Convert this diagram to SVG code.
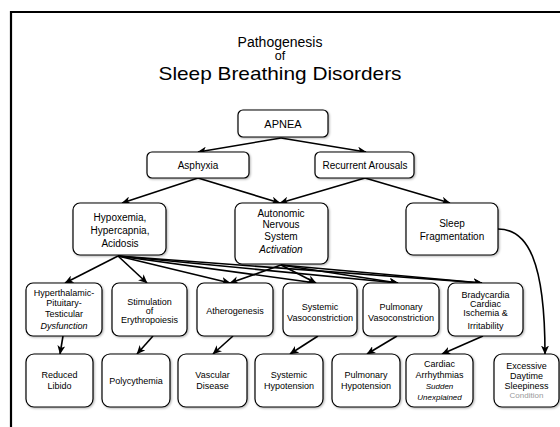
<svg xmlns="http://www.w3.org/2000/svg" width="560" height="427" viewBox="0 0 560 427">
<defs>
  <marker id="ah" markerWidth="10" markerHeight="8" refX="8.5" refY="4" orient="auto" markerUnits="userSpaceOnUse">
    <path d="M0,0 L9,4 L0,8 L2.5,4 z" fill="#000"/>
  </marker>
  <filter id="sh" x="-10%" y="-10%" width="130%" height="130%">
    <feDropShadow dx="1" dy="1" stdDeviation="0.8" flood-color="#000" flood-opacity="0.3"/>
  </filter>
</defs>
<style>
  .box { fill: #fff; stroke: #000; stroke-width: 1.2; filter: url(#sh); }
  .t { font-family: "Liberation Sans", Arial, sans-serif; text-anchor: middle; fill: #000; }
  .n11 { font-size: 11px; }
  .n10 { font-size: 10px; }
  .n9 { font-size: 9px; }
  .n8 { font-size: 8px; }
  .it { font-style: italic; }
  .gray { fill: #999; }
  .c { fill: none; stroke: #000; stroke-width: 1.6; marker-end: url(#ah); }
</style>
<rect width="560" height="427" fill="#fff"/>
<!-- frame -->
<path d="M11,427 L11,12 L560,12" fill="none" stroke="#000" stroke-width="2.2"/>

<!-- title -->
<g id="title">
  <text class="t" x="280" y="46.5" font-size="14">Pathogenesis</text>
  <text class="t" x="280" y="60" font-size="12.5">of</text>
  <text class="t" x="280" y="80" font-size="19" textLength="243" lengthAdjust="spacingAndGlyphs">Sleep Breathing Disorders</text>
</g>

<!-- connectors -->
<g id="connectors">
  <line class="c" x1="281" y1="138" x2="198" y2="152"/>
  <line class="c" x1="281" y1="138" x2="366" y2="152"/>
  <line class="c" x1="198" y1="178" x2="122" y2="203"/>
  <line class="c" x1="198" y1="178" x2="280" y2="203"/>
  <line class="c" x1="365" y1="178" x2="280" y2="203"/>
  <line class="c" x1="365" y1="178" x2="450" y2="203"/>
  <!-- from Hypoxemia -->
  <line class="c" x1="118" y1="256" x2="65" y2="283"/>
  <line class="c" x1="118" y1="256" x2="147" y2="283"/>
  <line class="c" x1="118" y1="256" x2="230" y2="283"/>
  <line class="c" x1="118" y1="256" x2="316" y2="283"/>
  <line class="c" x1="118" y1="256" x2="398" y2="283"/>
  <line class="c" x1="118" y1="256" x2="482" y2="283"/>
  <!-- from ANS -->
  <line class="c" x1="281" y1="265" x2="230" y2="283"/>
  <line class="c" x1="281" y1="265" x2="316" y2="283"/>
  <line class="c" x1="281" y1="265" x2="398" y2="283"/>
  <line class="c" x1="281" y1="265" x2="482" y2="283"/>
  <!-- row1 to row2 -->
  <line class="c" x1="63" y1="336" x2="60" y2="354"/>
  <line class="c" x1="153" y1="336" x2="137" y2="354"/>
  <line class="c" x1="233" y1="336" x2="213" y2="354"/>
  <line class="c" x1="318" y1="336" x2="290" y2="354"/>
  <line class="c" x1="397" y1="336" x2="367" y2="354"/>
  <line class="c" x1="483" y1="336" x2="442" y2="354"/>
  <path class="c" d="M498,229 C528,229 545,262 545,354"/>
</g>

<g id="apnea">
  <rect class="box" x="238" y="110" width="90" height="27" rx="5"/>
  <text class="t n11" x="283" y="127.5">APNEA</text>
</g>
<g id="asphyxia">
  <rect class="box" x="147" y="152" width="102" height="26" rx="5"/>
  <text class="t n10" x="198" y="168.5">Asphyxia</text>
</g>
<g id="arousals">
  <rect class="box" x="315" y="152" width="99" height="26" rx="5"/>
  <text class="t n10" x="365" y="168.5">Recurrent Arousals</text>
</g>
<g id="hypoxemia">
  <rect class="box" x="73" y="203" width="93" height="52" rx="7"/>
  <text class="t n10" x="120" y="221">Hypoxemia,</text>
  <text class="t n10" x="120" y="234">Hypercapnia,</text>
  <text class="t n10" x="120" y="247">Acidosis</text>
</g>
<g id="ans">
  <rect class="box" x="235" y="203" width="93" height="61" rx="7"/>
  <text class="t n10" x="281" y="216.5">Autonomic</text>
  <text class="t n10" x="281" y="228">Nervous</text>
  <text class="t n10" x="281" y="239.5">System</text>
  <text class="t n10 it" x="281" y="252.5">Activation</text>
</g>
<g id="sleepfrag">
  <rect class="box" x="406" y="203" width="92" height="52" rx="7"/>
  <text class="t n10" x="452" y="226.5">Sleep</text>
  <text class="t n10" x="452" y="239.5">Fragmentation</text>
</g>

<g id="hpt">
  <rect class="box" x="26" y="283" width="76" height="53" rx="7"/>
  <text class="t n9" x="64" y="296">Hyperthalamic-</text>
  <text class="t n9" x="64" y="306">Pituitary-</text>
  <text class="t n9" x="64" y="316.5">Testicular</text>
  <text class="t n9 it" x="64" y="329">Dysfunction</text>
</g>
<g id="erythro">
  <rect class="box" x="112" y="283" width="75" height="53" rx="7"/>
  <text class="t n9" x="149.5" y="305">Stimulation</text>
  <text class="t n9" x="149.5" y="314">of</text>
  <text class="t n9" x="149.5" y="323">Erythropoiesis</text>
</g>
<g id="athero">
  <rect class="box" x="197" y="283" width="76" height="53" rx="7"/>
  <text class="t n9" x="235" y="314">Atherogenesis</text>
</g>
<g id="sysvaso">
  <rect class="box" x="283" y="283" width="74" height="53" rx="7"/>
  <text class="t n9" x="320" y="310">Systemic</text>
  <text class="t n9" x="320" y="321" textLength="66" lengthAdjust="spacingAndGlyphs">Vasoconstriction</text>
</g>
<g id="pulvaso">
  <rect class="box" x="363" y="283" width="76" height="53" rx="7"/>
  <text class="t n9" x="401" y="310">Pulmonary</text>
  <text class="t n9" x="401" y="321" textLength="66" lengthAdjust="spacingAndGlyphs">Vasoconstriction</text>
</g>
<g id="brady">
  <rect class="box" x="448" y="283" width="75" height="53" rx="7"/>
  <text class="t n9" x="485.5" y="298">Bradycardia</text>
  <text class="t n9" x="485.5" y="306.5">Cardiac</text>
  <text class="t n9" x="485.5" y="316">Ischemia &amp;</text>
  <text class="t n9" x="485.5" y="329">Irritability</text>
</g>

<g id="libido">
  <rect class="box" x="26" y="354" width="67" height="53" rx="8"/>
  <text class="t n9" x="59.5" y="378">Reduced</text>
  <text class="t n9" x="59.5" y="388.5">Libido</text>
</g>
<g id="polycythemia">
  <rect class="box" x="102" y="354" width="68" height="53" rx="8"/>
  <text class="t n9" x="136" y="384">Polycythemia</text>
</g>
<g id="vascular">
  <rect class="box" x="178" y="354" width="69" height="53" rx="8"/>
  <text class="t n9" x="212.5" y="378">Vascular</text>
  <text class="t n9" x="212.5" y="388.5">Disease</text>
</g>
<g id="syshypo">
  <rect class="box" x="255" y="354" width="68" height="53" rx="8"/>
  <text class="t n9" x="289" y="378">Systemic</text>
  <text class="t n9" x="289" y="388.5">Hypotension</text>
</g>
<g id="pulhypo">
  <rect class="box" x="332" y="354" width="68" height="53" rx="8"/>
  <text class="t n9" x="366" y="378">Pulmonary</text>
  <text class="t n9" x="366" y="388.5">Hypotension</text>
</g>
<g id="arrhythmias">
  <rect class="box" x="406" y="354" width="67" height="53" rx="8"/>
  <text class="t n9" x="439.5" y="367">Cardiac</text>
  <text class="t n9" x="439.5" y="378">Arrhythmias</text>
  <text class="t n8 it" x="439.5" y="389">Sudden</text>
  <text class="t n8 it" x="439.5" y="400">Unexplained</text>
</g>
<g id="eds">
  <rect class="box" x="494" y="354" width="65" height="53" rx="8"/>
  <text class="t n9" x="526.5" y="369">Excessive</text>
  <text class="t n9" x="526.5" y="379">Daytime</text>
  <text class="t n9" x="526.5" y="389">Sleepiness</text>
  <text class="t n8 gray" x="526.5" y="398">Condition</text>
</g>
</svg>
